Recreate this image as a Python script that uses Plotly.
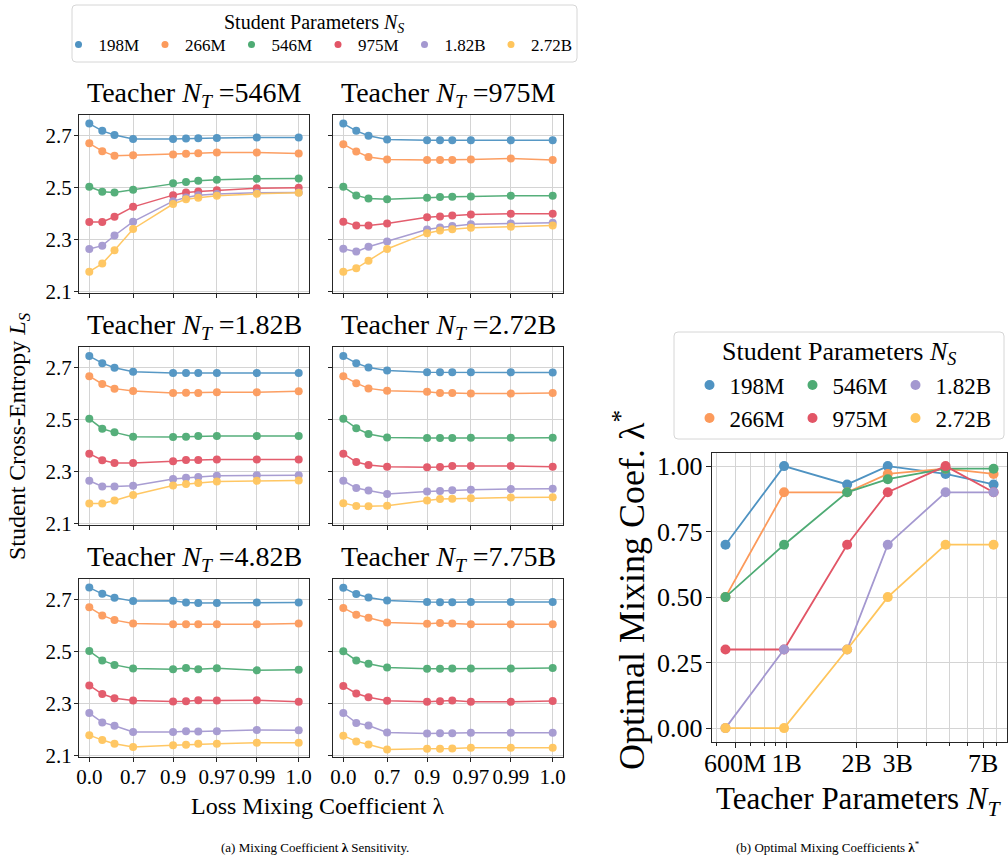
import numpy as np
import plotly.graph_objects as go

# ---------------- data ----------------
lambdas = [0.0, 0.3, 0.5, 0.7, 0.9, 0.93, 0.95, 0.97, 0.99, 1.0]
lambda_ticks = [0.0, 0.7, 0.9, 0.97, 0.99, 1.0]
lambda_tick_labels = ["0.0", "0.7", "0.9", "0.97", "0.99", "1.0"]

students = ["198M", "266M", "546M", "975M", "1.82B", "2.72B"]
colors = ["#4f93c2", "#fc9a5b", "#4eab74", "#e25566", "#a498d0", "#ffc55c"]

teachers = ["546M", "975M", "1.82B", "2.72B", "4.82B", "7.75B"]
teacher_params = [5.46e8, 9.75e8, 1.82e9, 2.72e9, 4.82e9, 7.75e9]

# student cross-entropy per teacher; rows = students (198M ... 2.72B), cols = lambdas
loss_teacher_546M = [
    [2.747, 2.719, 2.703, 2.688, 2.688, 2.690, 2.691, 2.692, 2.694, 2.694],
    [2.671, 2.641, 2.623, 2.625, 2.628, 2.631, 2.633, 2.636, 2.636, 2.632],
    [2.504, 2.485, 2.482, 2.493, 2.518, 2.523, 2.527, 2.531, 2.535, 2.536],
    [2.369, 2.369, 2.389, 2.427, 2.472, 2.482, 2.486, 2.491, 2.499, 2.500],
    [2.265, 2.278, 2.317, 2.370, 2.449, 2.463, 2.472, 2.476, 2.481, 2.482],
    [2.178, 2.209, 2.260, 2.342, 2.438, 2.456, 2.462, 2.470, 2.477, 2.481],
]
loss_teacher_975M = [
    [2.747, 2.719, 2.700, 2.686, 2.683, 2.683, 2.683, 2.683, 2.683, 2.683],
    [2.668, 2.640, 2.619, 2.609, 2.607, 2.607, 2.607, 2.609, 2.613, 2.607],
    [2.504, 2.471, 2.459, 2.456, 2.462, 2.465, 2.466, 2.467, 2.470, 2.470],
    [2.370, 2.355, 2.355, 2.363, 2.387, 2.390, 2.394, 2.398, 2.401, 2.401],
    [2.266, 2.255, 2.274, 2.294, 2.340, 2.348, 2.353, 2.360, 2.363, 2.366],
    [2.178, 2.191, 2.220, 2.265, 2.326, 2.336, 2.341, 2.347, 2.351, 2.355],
]
loss_teacher_1_82B = [
    [2.745, 2.718, 2.700, 2.685, 2.680, 2.680, 2.680, 2.680, 2.680, 2.680],
    [2.668, 2.638, 2.620, 2.611, 2.603, 2.604, 2.603, 2.606, 2.606, 2.610],
    [2.504, 2.466, 2.452, 2.435, 2.434, 2.435, 2.438, 2.438, 2.438, 2.438],
    [2.370, 2.345, 2.334, 2.334, 2.341, 2.346, 2.346, 2.348, 2.348, 2.348],
    [2.266, 2.244, 2.244, 2.247, 2.273, 2.278, 2.280, 2.285, 2.287, 2.287],
    [2.179, 2.179, 2.190, 2.211, 2.248, 2.254, 2.257, 2.263, 2.266, 2.267],
]
loss_teacher_2_72B = [
    [2.745, 2.718, 2.701, 2.690, 2.683, 2.683, 2.683, 2.683, 2.683, 2.682],
    [2.668, 2.641, 2.621, 2.612, 2.608, 2.603, 2.603, 2.601, 2.601, 2.603],
    [2.504, 2.468, 2.446, 2.432, 2.430, 2.430, 2.430, 2.431, 2.431, 2.431],
    [2.370, 2.338, 2.327, 2.320, 2.318, 2.319, 2.323, 2.323, 2.323, 2.320],
    [2.266, 2.238, 2.229, 2.215, 2.225, 2.227, 2.230, 2.231, 2.234, 2.235],
    [2.180, 2.169, 2.168, 2.170, 2.190, 2.196, 2.197, 2.199, 2.202, 2.203],
]
loss_teacher_4_82B = [
    [2.747, 2.723, 2.708, 2.695, 2.696, 2.690, 2.688, 2.688, 2.690, 2.690],
    [2.671, 2.640, 2.622, 2.609, 2.606, 2.606, 2.606, 2.606, 2.606, 2.609],
    [2.503, 2.467, 2.450, 2.436, 2.433, 2.438, 2.433, 2.437, 2.429, 2.431],
    [2.371, 2.338, 2.322, 2.313, 2.309, 2.310, 2.314, 2.313, 2.314, 2.308],
    [2.265, 2.229, 2.216, 2.192, 2.192, 2.195, 2.194, 2.195, 2.200, 2.199],
    [2.180, 2.161, 2.147, 2.134, 2.141, 2.143, 2.147, 2.147, 2.151, 2.151],
]
loss_teacher_7_75B = [
    [2.746, 2.722, 2.709, 2.697, 2.692, 2.691, 2.691, 2.692, 2.692, 2.692],
    [2.669, 2.643, 2.631, 2.613, 2.608, 2.611, 2.609, 2.606, 2.606, 2.606],
    [2.502, 2.467, 2.454, 2.440, 2.435, 2.435, 2.436, 2.436, 2.436, 2.438],
    [2.369, 2.340, 2.326, 2.312, 2.308, 2.310, 2.313, 2.308, 2.308, 2.311],
    [2.265, 2.227, 2.217, 2.190, 2.186, 2.187, 2.187, 2.189, 2.189, 2.189],
    [2.178, 2.156, 2.144, 2.125, 2.128, 2.128, 2.129, 2.132, 2.132, 2.132],
]
loss_panels = [loss_teacher_546M, loss_teacher_975M, loss_teacher_1_82B,
               loss_teacher_2_72B, loss_teacher_4_82B, loss_teacher_7_75B]

# optimal mixing coefficient per student vs teacher size
opt_lambda_198M = [0.70, 1.00, 0.93, 1.00, 0.97, 0.93]
opt_lambda_266M = [0.50, 0.90, 0.90, 0.97, 0.99, 0.97]
opt_lambda_546M = [0.50, 0.70, 0.90, 0.95, 0.99, 0.99]
opt_lambda_975M = [0.30, 0.30, 0.70, 0.90, 1.00, 0.90]
opt_lambda_1_82B = [0.00, 0.30, 0.30, 0.70, 0.90, 0.90]
opt_lambda_2_72B = [0.00, 0.00, 0.30, 0.50, 0.70, 0.70]
opt_lambdas = [opt_lambda_198M, opt_lambda_266M, opt_lambda_546M,
               opt_lambda_975M, opt_lambda_1_82B, opt_lambda_2_72B]

teacher_major_ticks = [6e8, 1e9, 2e9, 3e9, 7e9]
teacher_major_labels = ["600M", "1B", "2B", "3B", "7B"]
teacher_minor_ticks = [5e8, 7e8, 8e8, 9e8, 4e9, 5e9, 6e9, 8e9, 9e9]

# ---------------- helpers ----------------
W, H = 1008, 861
FONT = "Liberation Serif, Times New Roman, serif"
GRID = "#d4d4d4"
SPINE = "#262626"


def lam_scale(vals):
    """Custom x scale: -log10(1 - lambda), with lambda = 1 clipped."""
    v = np.asarray(vals, dtype=float)
    return -np.log10(np.clip(1.0 - v, 10 ** -2.5, None))


def px_x(p):
    return p / W


def px_y(p):
    return 1 - p / H


col_x = [(79, 309), (333, 563)]
row_y = [(115, 293), (347, 525), (579, 757)]

fig = go.Figure()

lam_pos = lam_scale(lambdas)
lam_tick_pos = lam_scale(lambda_ticks)
span = lam_tick_pos[-1] - lam_tick_pos[0]
pad = span * 10.3 / 209.4
x_range = [lam_tick_pos[0] - pad, lam_tick_pos[-1] + pad]

layout_axes = {}
for k, teacher in enumerate(teachers):
    r, c = divmod(k, 2)
    idx = k + 1
    xa = "xaxis" if idx == 1 else f"xaxis{idx}"
    ya = "yaxis" if idx == 1 else f"yaxis{idx}"
    xref = "x" if idx == 1 else f"x{idx}"
    yref = "y" if idx == 1 else f"y{idx}"
    for s, name in enumerate(students):
        fig.add_trace(go.Scatter(
            x=lam_pos, y=loss_panels[k][s], mode="lines+markers",
            line=dict(color=colors[s], width=1.5),
            marker=dict(color=colors[s], size=8),
            opacity=0.95, showlegend=False, xaxis=xref, yaxis=yref,
            hoverinfo="skip"))
    layout_axes[xa] = dict(
        domain=[px_x(col_x[c][0]), px_x(col_x[c][1])], anchor=yref,
        range=x_range, tickmode="array", tickvals=lam_tick_pos,
        ticktext=lambda_tick_labels, showticklabels=(r == 2),
        showgrid=True, gridcolor=GRID, gridwidth=1, zeroline=False,
        showline=True, linecolor=SPINE, linewidth=1, mirror=True,
        ticks="outside", ticklen=4, tickcolor=SPINE, ticklabelstandoff=-3,
        tickfont=dict(family=FONT, size=21, color="black"))
    layout_axes[ya] = dict(
        domain=[px_y(row_y[r][1]), px_y(row_y[r][0])], anchor=xref,
        range=[2.096, 2.78], tickmode="array", tickvals=[2.1, 2.3, 2.5, 2.7],
        ticktext=["2.1", "2.3", "2.5", "2.7"], showticklabels=(c == 0),
        showgrid=True, gridcolor=GRID, gridwidth=1, zeroline=False,
        showline=True, linecolor=SPINE, linewidth=1, mirror=True,
        ticks="outside", ticklen=4, tickcolor=SPINE, ticklabelstandoff=-2,
        tickfont=dict(family=FONT, size=21, color="black"))

# right panel
for s, name in enumerate(students):
    fig.add_trace(go.Scatter(
        x=teacher_params, y=opt_lambdas[s], mode="lines+markers",
        line=dict(color=colors[s], width=1.8),
        marker=dict(color=colors[s], size=10),
        showlegend=False, xaxis="x7", yaxis="y7", hoverinfo="skip"))

layout_axes["xaxis7"] = dict(
    domain=[px_x(711.7), px_x(1007)], anchor="y7", type="log",
    range=[8.678, 9.947], tickmode="array", tickvals=teacher_major_ticks,
    ticktext=teacher_major_labels, showgrid=True, gridcolor=GRID, gridwidth=1,
    zeroline=False, showline=True, linecolor=SPINE, linewidth=1, mirror=True,
    ticks="outside", ticklen=5, tickcolor=SPINE, ticklabelstandoff=-7,
    tickfont=dict(family=FONT, size=26, color="black"),
    minor=dict(tickmode="array", tickvals=teacher_minor_ticks, ticks="outside",
               ticklen=3, tickcolor=SPINE, showgrid=True, gridcolor=GRID,
               gridwidth=1))
layout_axes["yaxis7"] = dict(
    domain=[px_y(742), px_y(453)], anchor="x7", range=[-0.053, 1.05],
    tickmode="array", tickvals=[0, 0.25, 0.5, 0.75, 1.0],
    ticktext=["0.00", "0.25", "0.50", "0.75", "1.00"], showgrid=True,
    gridcolor=GRID, gridwidth=1, zeroline=False, showline=True,
    linecolor=SPINE, linewidth=1, mirror=True, ticks="outside", ticklen=5,
    tickcolor=SPINE, ticklabelstandoff=-2,
    tickfont=dict(family=FONT, size=26, color="black"))

# legend-only entries (markers only, like the reference)
for s, name in enumerate(students):
    fig.add_trace(go.Scatter(
        x=[None], y=[None], mode="markers", name=name,
        marker=dict(color=colors[s], size=7), legend="legend",
        xaxis="x", yaxis="y"))
for s, name in enumerate(students):
    fig.add_trace(go.Scatter(
        x=[None], y=[None], mode="markers", name=name,
        marker=dict(color=colors[s], size=10),
        legend="legend2" if s % 2 == 0 else "legend3",
        xaxis="x7", yaxis="y7"))


def rounded_box(x0, y0, x1, y1, rad=4):
    X0, X1 = px_x(x0), px_x(x1)
    Y0, Y1 = px_y(y0), px_y(y1)
    rx, ry = rad / W, rad / H
    return (f"M {X0+rx},{Y0} L {X1-rx},{Y0} Q {X1},{Y0} {X1},{Y0-ry} "
            f"L {X1},{Y1+ry} Q {X1},{Y1} {X1-rx},{Y1} L {X0+rx},{Y1} "
            f"Q {X0},{Y1} {X0},{Y1+ry} L {X0},{Y0-ry} Q {X0},{Y0} {X0+rx},{Y0} Z")


shapes = [
    dict(type="path", xref="paper", yref="paper", path=rounded_box(72, 5, 577, 62),
         line=dict(color="#d6d6d6", width=1), fillcolor="rgba(255,255,255,0.8)",
         layer="below"),
    dict(type="path", xref="paper", yref="paper", path=rounded_box(674, 332, 1004, 439),
         line=dict(color="#d6d6d6", width=1), fillcolor="rgba(255,255,255,0.8)",
         layer="below"),
]

annotations = []
for k, teacher in enumerate(teachers):
    r, c = divmod(k, 2)
    annotations.append(dict(
        text=f"Teacher <i>N</i><sub><i>T</i></sub> =" + teacher,
        xref="paper", yref="paper", x=px_x((col_x[c][0] + col_x[c][1]) / 2),
        y=px_y(row_y[r][0] - 1), xanchor="center", yanchor="bottom",
        showarrow=False, font=dict(family=FONT, size=28, color="black")))

annotations += [
    dict(text="Student Parameters <i>N</i><sub><i>S</i></sub>", xref="paper",
         yref="paper", x=px_x(314), y=px_y(24), xanchor="center",
         yanchor="middle", showarrow=False,
         font=dict(family=FONT, size=20, color="black")),
    dict(text="Student Parameters <i>N</i><sub><i>S</i></sub>", xref="paper",
         yref="paper", x=px_x(839), y=px_y(353), xanchor="center",
         yanchor="middle", showarrow=False,
         font=dict(family=FONT, size=26, color="black")),
    dict(text="Student Cross-Entropy <i>L</i><sub><i>S</i></sub>", xref="paper",
         yref="paper", x=px_x(19), y=px_y(436), textangle=-90, xanchor="center",
         yanchor="middle", showarrow=False,
         font=dict(family=FONT, size=24, color="black")),
    dict(text="Loss Mixing Coefficient λ", xref="paper", yref="paper",
         x=px_x(318), y=px_y(806), xanchor="center", yanchor="middle",
         showarrow=False, font=dict(family=FONT, size=24, color="black")),
    dict(text="Optimal Mixing Coef. λ<sup>*</sup>", xref="paper", yref="paper",
         x=px_x(629), y=px_y(590), textangle=-90, xanchor="center",
         yanchor="middle", showarrow=False,
         font=dict(family=FONT, size=36, color="black")),
    dict(text="Teacher Parameters <i>N</i><sub><i>T</i></sub>", xref="paper",
         yref="paper", x=px_x(859), y=px_y(801), xanchor="center",
         yanchor="middle", showarrow=False,
         font=dict(family=FONT, size=31, color="black")),
    dict(text="(a) Mixing Coefficient <b>λ</b> Sensitivity.", xref="paper",
         yref="paper", x=px_x(315), y=px_y(847), xanchor="center",
         yanchor="middle", showarrow=False,
         font=dict(family=FONT, size=13, color="black")),
    dict(text="(b) Optimal Mixing Coefficients <b>λ</b><sup>*</sup>", xref="paper",
         yref="paper", x=px_x(828), y=px_y(847), xanchor="center",
         yanchor="middle", showarrow=False,
         font=dict(family=FONT, size=13, color="black")),
]

fig.update_layout(
    width=W, height=H, paper_bgcolor="white", plot_bgcolor="white",
    margin=dict(l=0, r=0, t=0, b=0, autoexpand=False),
    font=dict(family=FONT, color="black"),
    shapes=shapes, annotations=annotations,
    legend=dict(orientation="h", x=px_x(318), xanchor="center", y=px_y(45),
                yanchor="middle", bgcolor="rgba(0,0,0,0)", borderwidth=0,
                font=dict(family=FONT, size=17, color="black"),
                entrywidth=41.5, itemwidth=30),
    legend2=dict(orientation="h", x=px_x(844), xanchor="center", y=px_y(385),
                 yanchor="middle", bgcolor="rgba(0,0,0,0)", borderwidth=0,
                 font=dict(family=FONT, size=23, color="black"),
                 entrywidth=58, itemwidth=30),
    legend3=dict(orientation="h", x=px_x(844), xanchor="center", y=px_y(418),
                 yanchor="middle", bgcolor="rgba(0,0,0,0)", borderwidth=0,
                 font=dict(family=FONT, size=23, color="black"),
                 entrywidth=58, itemwidth=30),
    **layout_axes,
)

fig.write_html(
    "out.html",
    config={"displayModeBar": False},
    post_script="document.body.style.margin='0';"
                "document.body.style.overflow='hidden';")
